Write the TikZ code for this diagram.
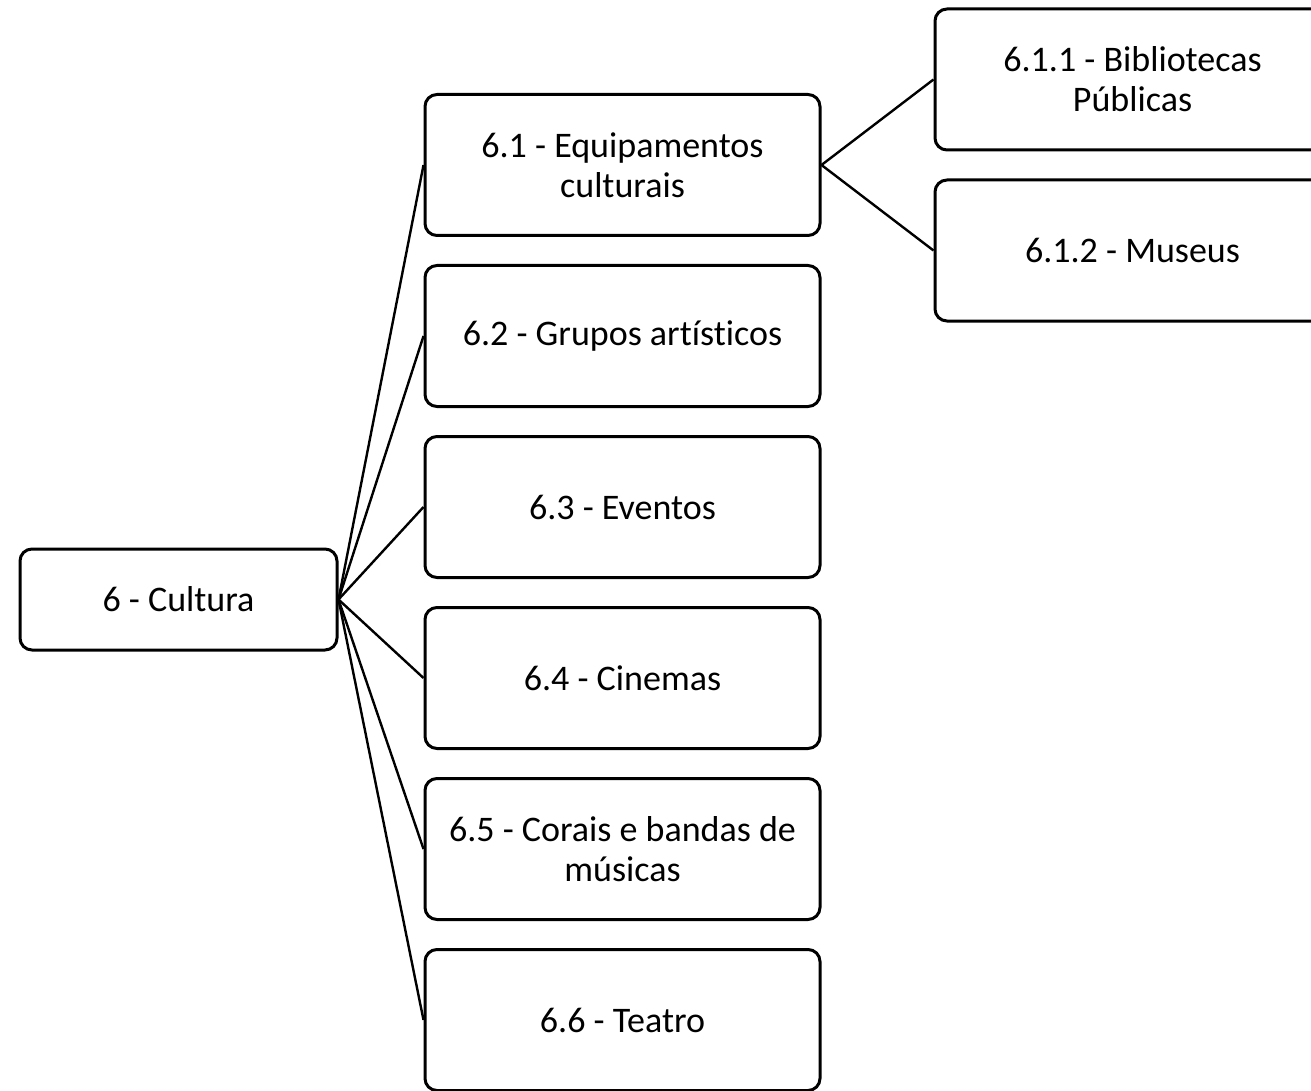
\documentclass[tikz,border=0pt]{standalone}
\usepackage{fontspec}
\setmainfont{Carlito}[Ligatures=CommonOff]
\usetikzlibrary{trees}

\begin{document}
\begin{tikzpicture}[
  x=1pt, y=-1pt,
  grow'=right,
  level 1/.style={sibling distance=171pt, level distance=444pt, every child node/.style={yshift=7pt}},
  level 2/.style={sibling distance=171pt, level distance=510pt, every child node/.style={}},
  parent anchor=east, child anchor=west,
  edge from parent/.style={draw, line width=2.4pt},
  every node/.style={font=\fontsize{36}{40}\selectfont, align=center},
  topic/.style={rectangle, draw, line width=3pt, rounded corners=12pt, minimum width=317pt, minimum height=101pt},
  item/.style={rectangle, draw, line width=3pt, rounded corners=12pt, minimum width=395pt, minimum height=141pt}
]
\useasboundingbox (0,0) rectangle (1311,1091);

\node[topic, yshift=-7pt] (cultura) at (178.5,592.5) {6 - Cultura}
  child {
    node[item] (equip) {6.1 - Equipamentos\\ culturais}
    child {
      node[item] (bibliotecas) {6.1.1 - Bibliotecas\\ Públicas}
    }
    child {
      node[item] (museus) {6.1.2 - Museus}
    }
  }
  child {
    node[item] (grupos) {6.2 - Grupos artísticos}
  }
  child {
    node[item] (eventos) {6.3 - Eventos}
  }
  child {
    node[item] (cinemas) {6.4 - Cinemas}
  }
  child {
    node[item] (corais) {6.5 - Corais e bandas de\\ músicas}
  }
  child {
    node[item] (teatro) {6.6 - Teatro}
  };

\end{tikzpicture}
\end{document}
